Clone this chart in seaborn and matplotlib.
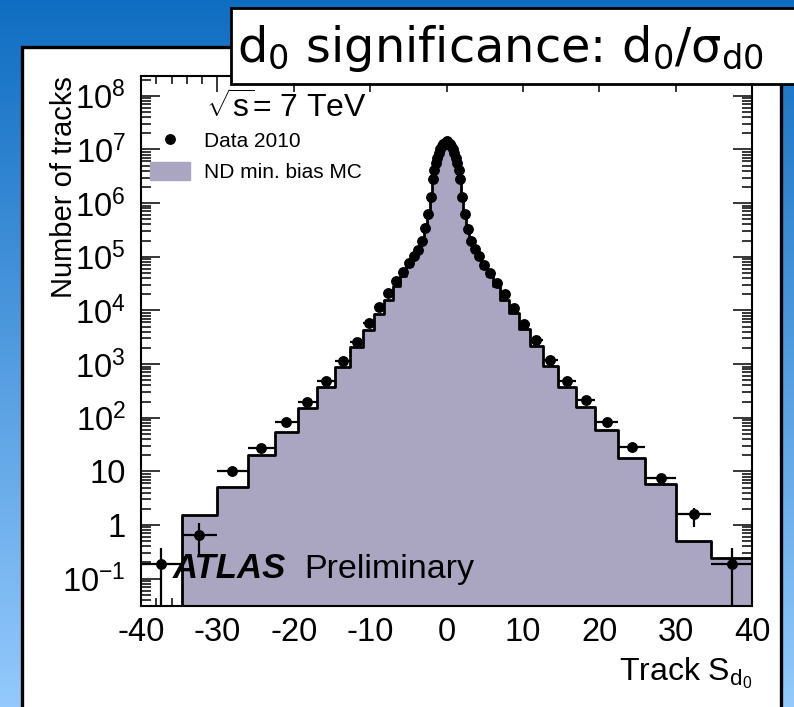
import numpy as np
import pandas as pd
import matplotlib
matplotlib.use("Agg")
import matplotlib.pyplot as plt
import seaborn as sns
from matplotlib.patches import Rectangle, Patch
from matplotlib.lines import Line2D
from matplotlib.colors import LinearSegmentedColormap
from matplotlib.ticker import LogLocator, FuncFormatter, MultipleLocator, NullFormatter, FixedLocator

# ---------------- data ----------------
bin_edges = [-40, -34.65, -30.05, -26.05, -22.45, -19.5, -16.9, -14.55, -12.65, -10.9,
             -9.5, -8.2, -7.05, -6.1, -5.25, -4.55, -3.95, -3.4, -2.95, -2.55, -2.2,
             -1.9, -1.7, -1.5, -1.3, -1.1, -0.9, -0.7, -0.5, -0.3, -0.1,
             0.1, 0.3, 0.5, 0.7, 0.9, 1.1, 1.3, 1.5, 1.7, 1.9, 2.2, 2.55, 2.95, 3.4,
             3.95, 4.55, 5.25, 6.1, 7.05, 8.2, 9.5, 10.9, 12.65, 14.55, 16.9, 19.5,
             22.45, 26.05, 30.05, 34.65, 40]

data_2010 = [0.19, 0.65, 10.3, 27.7, 82, 200, 486, 1150, 2630, 5750,
             11500, 21000, 34700, 51000, 75000, 1.05e5, 1.35e5, 2.0e5, 3.4e5, 6.3e5,
             1.32e6, 2.8e6, 4.2e6, 5.5e6, 6.9e6, 8.5e6, 1.0e7, 1.15e7, 1.26e7, 1.35e7,
             1.41e7,
             1.35e7, 1.26e7, 1.15e7, 1.0e7, 8.5e6, 6.9e6, 5.5e6, 4.2e6, 2.8e6, 1.3e6,
             6.2e5, 3.3e5, 1.95e5, 1.38e5, 1.04e5, 7.1e4, 5.0e4, 3.3e4, 2.05e4, 1.1e4,
             5600, 2750, 1170, 492, 212, 82, 29, 7.6, 1.6, 0.19]

mc_min_bias = [0, 1.54, 5.2, 20.2, 53.6, 150, 380, 890, 2090, 4370,
               8700, 15800, 28000, 44000, 66000, 95000, 1.25e5, 1.85e5, 3.2e5, 5.9e5,
               1.25e6, 2.7e6, 4.05e6, 5.3e6, 6.7e6, 8.3e6, 9.8e6, 1.12e7, 1.23e7, 1.32e7,
               1.38e7,
               1.32e7, 1.23e7, 1.12e7, 9.8e6, 8.3e6, 6.7e6, 5.3e6, 4.05e6, 2.7e6, 1.23e6,
               5.8e5, 3.1e5, 1.8e5, 1.28e5, 9.5e4, 6.3e4, 4.4e4, 2.8e4, 1.58e4, 8900,
               4470, 2140, 930, 380, 158, 59, 17.5, 5.7, 0.50, 0.24]

# vertical error bars (only visible in the outermost bins)
err_index = [0, 1, 59, 60]
err_low = [0.188, 0.375, 0.67, 0.188]
err_high = [0.19, 0.42, 0.45, 0.19]

x_ticks = [-40, -30, -20, -10, 0, 10, 20, 30, 40]
y_decades = [-1, 0, 1, 2, 3, 4, 5, 6, 7, 8]

# ---------------- styling ----------------
sns.set_style("ticks")
plt.rcParams["font.family"] = ["Liberation Sans", "DejaVu Sans"]
plt.rcParams["axes.unicode_minus"] = False
plt.rcParams["mathtext.fontset"] = "custom"
plt.rcParams["mathtext.rm"] = "Liberation Sans"
plt.rcParams["mathtext.it"] = "Liberation Sans:italic"
plt.rcParams["mathtext.bf"] = "Liberation Sans:bold"
for k in ["text.color", "axes.labelcolor", "xtick.color", "ytick.color", "axes.edgecolor"]:
    plt.rcParams[k] = "black"

W, H = 794, 707
fig = plt.figure(figsize=(W / 100, H / 100), dpi=100)

# slide background gradient
bg = fig.add_axes([0, 0, 1, 1], zorder=-10)
cmap = LinearSegmentedColormap.from_list("slide", [(0.06, 0.43, 0.76), (0.58, 0.79, 0.99)])
bg.imshow(np.linspace(0, 1, 256).reshape(-1, 1), aspect="auto", cmap=cmap,
          extent=[0, 1, 0, 1], origin="upper")
bg.set_axis_off()

# white panel
fig.add_artist(Rectangle((22 / W, -0.05), (781 - 22) / W, 1.05 - 47 / H,
                         transform=fig.transFigure, facecolor="white",
                         edgecolor="black", lw=2.4, zorder=-5))

ax = fig.add_axes([141 / W, 1 - 606 / H, 611 / W, 530 / H], zorder=0)

edges = np.array(bin_edges, dtype=float)
centers = (edges[:-1] + edges[1:]) / 2
half_w = (edges[1:] - edges[:-1]) / 2
df = pd.DataFrame({"x": centers, "mc": mc_min_bias, "data": data_2010})

fill_col = "#aaa6c2"
sns.histplot(data=df, x="x", weights="mc", bins=list(bin_edges), element="step", fill=True,
             color=fill_col, alpha=1, edgecolor="black", linewidth=2.0, ax=ax,
             stat="count", zorder=2)

ylo = np.zeros(len(centers))
yhi = np.zeros(len(centers))
for i, lo, hi in zip(err_index, err_low, err_high):
    ylo[i] = lo
    yhi[i] = hi
ax.errorbar(df["x"], df["data"], xerr=half_w, yerr=[ylo, yhi], fmt="o", ms=6.8,
            color="black", ecolor="black", elinewidth=1.6, capsize=0, zorder=5)

ax.set_yscale("log")
ax.set_xlim(-40, 40)
ax.set_ylim(10 ** -1.51, 10 ** 8.37)

ax.xaxis.set_major_locator(FixedLocator(x_ticks))
ax.xaxis.set_minor_locator(MultipleLocator(2))
ax.yaxis.set_major_locator(FixedLocator([10.0 ** e for e in y_decades]))
ax.yaxis.set_minor_locator(LogLocator(base=10, subs=np.arange(2, 10), numticks=30))
ax.yaxis.set_minor_formatter(NullFormatter())


def yfmt(v, pos):
    e = int(round(np.log10(v)))
    if e == 0:
        return "1"
    if e == 1:
        return "10"
    return r"$\mathregular{10^{%d}}$" % e


ax.yaxis.set_major_formatter(FuncFormatter(yfmt))

ax.tick_params(axis="both", which="both", direction="in", top=True, right=True,
               width=1.1, color="black", labelsize=23.5, labelcolor="black")
ax.tick_params(axis="x", which="major", length=11.3, pad=8)
ax.tick_params(axis="x", which="minor", length=5.8)
ax.tick_params(axis="y", which="major", length=13.7, pad=11)
ax.tick_params(axis="y", which="minor", length=7.2)
for s in ax.spines.values():
    s.set_linewidth(1.5)
    s.set_color("black")

ax.set_ylabel("Number of tracks", fontsize=21, loc="top", color="black")
ax.yaxis.set_label_coords(-0.103, 1.0)
ax.set_xlabel(r"Track S$_{\mathregular{d}_{\mathregular{0}}}$", fontsize=23, loc="right",
              color="black")
ax.xaxis.set_label_coords(1.0, -0.094)

ax.text(0.106, 0.938, r"$\sqrt{\mathregular{s}}$= 7 TeV", transform=ax.transAxes,
        fontsize=23, va="center", ha="left", color="black")
ax.text(0.052, 0.053, "ATLAS", transform=ax.transAxes, fontsize=25,
        fontweight="bold", fontstyle="italic", va="baseline", ha="left", zorder=6,
        color="black")
ax.text(0.268, 0.053, "Preliminary", transform=ax.transAxes, fontsize=24.5,
        va="baseline", ha="left", zorder=6, color="black")

handles = [Line2D([], [], marker="o", ls="none", color="black", ms=6.8),
           Patch(facecolor=fill_col, edgecolor=fill_col)]
leg = ax.legend(handles, ["Data 2010", "ND min. bias MC"], loc="upper left",
                bbox_to_anchor=(0.0147, 0.896), frameon=False, fontsize=15,
                borderaxespad=0, borderpad=0, handlelength=1.92, handleheight=0.96,
                handletextpad=0.67, labelspacing=0.5)
for t in leg.get_texts():
    t.set_color("black")

# title box
fig.add_artist(Rectangle((231 / W, 1 - 84 / H), (805 - 231) / W, (84 - 8) / H,
                         transform=fig.transFigure, facecolor="white",
                         edgecolor="black", lw=2.0, zorder=5))
fig.text(237 / W, 1 - 62 / H, r"d$_0$ significance: d$_0$/σ$_{\mathrm{d0}}$",
         fontsize=34.5, family="DejaVu Sans", math_fontfamily="dejavusans",
         va="baseline", ha="left", zorder=6, color="black")

fig.savefig("out.png", dpi=100)
